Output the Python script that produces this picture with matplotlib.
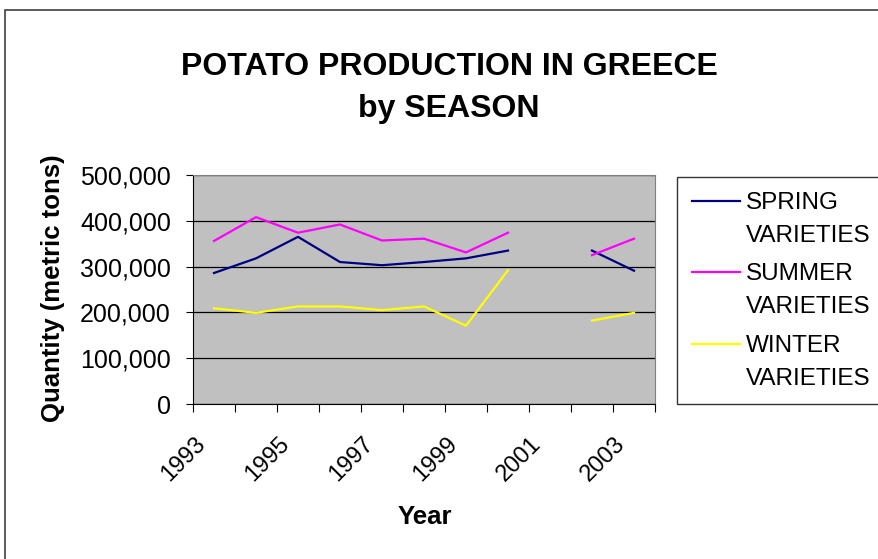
import numpy as np
import matplotlib
matplotlib.use("Agg")
import matplotlib.pyplot as plt
import matplotlib.transforms as mtransforms
from matplotlib.patches import Rectangle
from matplotlib.legend_handler import HandlerLine2D

plt.rcParams['font.family'] = ['Liberation Sans', 'DejaVu Sans']

# data (metric tons), 2001 missing
years = ['1993', '1994', '1995', '1996', '1997', '1998', '1999', '2000', '2001', '2002', '2003']
spring = [286000, 318000, 365000, 310000, 303000, 310000, 318000, 335000, np.nan, 335000, 291000]
summer = [356000, 408000, 374000, 392000, 357000, 361000, 331000, 374000, np.nan, 325000, 361000]
winter = [209000, 199000, 213000, 213000, 205000, 213000, 171000, 292000, np.nan, 182000, 199000]
series_names = ['SPRING\nVARIETIES', 'SUMMER\nVARIETIES', 'WINTER\nVARIETIES']
colors = ['#000080', '#FF00FF', '#FFFF00']


class FirstLineHandler(HandlerLine2D):
    # put the legend line next to the first text line, like Excel does
    def create_artists(self, legend, orig_handle, xdescent, ydescent, width, height,
                       fontsize, trans):
        arts = super().create_artists(legend, orig_handle, xdescent, ydescent, width,
                                      height, fontsize, trans)
        for a in arts:
            a.set_ydata(np.asarray(a.get_ydata()) + 0.76 * fontsize)
        return arts


W, H = 879, 559
fig = plt.figure(figsize=(W / 100, H / 100), dpi=100)

# chart area border
fig.patches.append(Rectangle((5 / W, -0.1), 1.1, 1 - 10 / H + 0.1, transform=fig.transFigure,
                             fill=False, edgecolor='#404040', linewidth=1.2))

ax = fig.add_axes([193 / W, 1 - 404 / H, (655 - 193) / W, (404 - 175) / H])
ax.set_facecolor('#C0C0C0')

x = np.arange(len(years))
for vals, name, c in zip([spring, summer, winter], series_names, colors):
    ax.plot(x, vals, color=c, linewidth=1.6, label=name)

ax.set_xlim(-0.5, len(years) - 0.5)
ax.set_ylim(0, 500000)
ax.set_yticks(np.arange(0, 500001, 100000))
ax.set_yticklabels(['{:,}'.format(v) for v in range(0, 500001, 100000)], fontsize=18)
ax.yaxis.grid(True, color='black', linewidth=0.9)
ax.set_axisbelow(True)

# category boundary ticks, labels at every other category
ax.set_xticks(np.arange(-0.5, len(years), 1.0))
ax.set_xticklabels([])
ax.set_xticks(x[::2], minor=True)
ax.set_xticklabels(years[::2], minor=True, rotation=45, ha='right', va='top',
                   rotation_mode='anchor', fontsize=17)
ax.tick_params(axis='x', which='major', length=6, direction='out', color='black')
ax.tick_params(axis='x', which='minor', length=0, pad=21)
ax.tick_params(axis='y', length=5, direction='out', pad=11)
# nudge the slanted year labels to the left (after tick_params, which resets transforms)
shift = mtransforms.ScaledTranslation(-20 / 100, 0, fig.dpi_scale_trans)
for lab in ax.get_xticklabels(minor=True):
    lab.set_transform(lab.get_transform() + shift)

for s in ['top', 'right']:
    ax.spines[s].set_color('#808080')
for s in ['left', 'bottom']:
    ax.spines[s].set_color('black')

fig.text(425 / W, 1 - 517 / H, 'Year', ha='center', va='center', fontsize=18.5,
         fontweight='bold')
fig.text(53 / W, 1 - 288 / H, 'Quantity (metric tons)', ha='center', va='center',
         rotation=90, fontsize=18.5, fontweight='bold')

fig.text(449 / W, 1 - 67 / H, 'POTATO PRODUCTION IN GREECE', ha='center', va='center',
         fontsize=23, fontweight='bold')
fig.text(449 / W, 1 - 109 / H, 'by SEASON', ha='center', va='center',
         fontsize=23, fontweight='bold')

leg = fig.legend(loc='upper left', bbox_to_anchor=(677 / W, 1 - 177 / H), fontsize=17.5,
                 frameon=True, fancybox=False, edgecolor='black', handlelength=2.0,
                 handletextpad=0.25, labelspacing=0.68, borderpad=0.6, borderaxespad=0,
                 handler_map={plt.Line2D: FirstLineHandler()})
leg.get_frame().set_linewidth(1.0)
for t in leg.get_texts():
    t.set_linespacing(1.65)

fig.savefig('out.png', dpi=100)
